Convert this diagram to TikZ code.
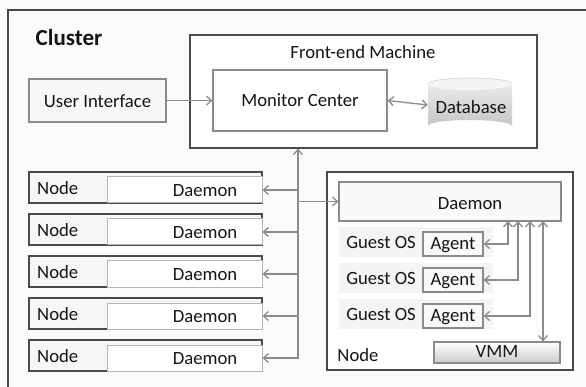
\documentclass[tikz,border=0pt]{standalone}
\usepackage{fontspec}
\setmainfont{Carlito}
\usetikzlibrary{arrows.meta}
\definecolor{ink}{HTML}{151515}
\definecolor{bgc}{HTML}{FBFBFB}
\definecolor{dk}{HTML}{4A4A4A}
\definecolor{md}{HTML}{8A8A8A}
\definecolor{lt}{HTML}{B5B5B5}
\definecolor{arc}{HTML}{8C8C8C}
\begin{document}
\begin{tikzpicture}[x=1pt,y=-1pt,
  txt/.style={inner sep=0pt, text=ink, font=\fontsize{18.7}{20}\selectfont},
  bx/.style={inner sep=0pt, line width=1.2pt},
  arr/.style={draw=arc, line width=1.3pt, -{Straight Barb[length=5pt,width=9pt]}},
  darr/.style={draw=arc, line width=1.3pt, {Straight Barb[length=5pt,width=9pt]}-{Straight Barb[length=5pt,width=9pt]}},
  lnk/.style={draw=arc, line width=1.3pt}]
\useasboundingbox (0,0) rectangle (586,387);
\fill[bgc] (0,0) rectangle (586,387);
% cluster frame (cropped at right and bottom)
\draw[dk, line width=1.6pt] (586,10) -- (8,10) -- (8,387);
\node[txt, font=\fontsize{23}{25}\selectfont\bfseries] (cl) at (69,38) {Cluster};

% front-end machine
\node[bx, draw=dk, fill=white, minimum width=347pt, minimum height=113pt] (fe) at (363.5,91.5) {};
\node[txt] (fet) at (363,52) {Front-end Machine};
\node[bx, draw=md, fill=white, minimum width=174pt, minimum height=61pt] (mc) at (300,100.5) {};
\node[txt] (mct) at (300,100) {Monitor Center};
% database cylinder
\node[inner sep=0pt, minimum width=84pt, minimum height=54pt] (db) at (470,105) {};
\shade[top color=gray!12, bottom color=gray!45]
  (428,84) -- (428,126) arc[start angle=180, end angle=360, x radius=42pt, y radius=-6pt]
  -- (512,84) arc[start angle=0, end angle=180, x radius=42pt, y radius=6pt] -- cycle;
\fill[gray!8] (470,84) ellipse[x radius=42pt, y radius=6pt];
\draw[gray!35, line width=0.6pt] (428,84) arc[start angle=180, end angle=360, x radius=42pt, y radius=-6pt];
\node[txt] (dbt) at (471,107) {Database};
\draw[darr] (mc.east) -- (db.west);

% user interface
\node[bx, draw=md, fill=gray!6, minimum width=137pt, minimum height=43pt] (ui) at (97.5,100.5) {};
\node[txt] (uit) at (97.5,101) {User Interface};
\draw[arr] (ui.east) -- (mc.west);

% node rows
\foreach \i/\t in {1/172,2/214,3/256,4/298,5/340}{
  \node[bx, draw=dk, fill=gray!7, minimum width=233pt, minimum height=31pt] (nr\i) at (145.5,\t+15.5) {};
  \node[bx, draw=lt, line width=1pt, fill=white, minimum width=155pt, minimum height=26pt] (dm\i) at (184.5,\t+18) {};
  \node[txt, anchor=west] (nl\i) at (37,\t+16) {Node};
  \node[txt] (dt\i) at (205,\t+19) {Daemon};
}
% bus
\coordinate (bb) at (298,359);
\draw[arr] (bb) -- (bb |- fe.south);
\foreach \i in {1,...,5}{ \draw[arr] (bb |- dm\i.east) -- (dm\i.east); }

% right node
\node[bx, draw=dk, fill=white, minimum width=246pt, minimum height=198pt] (rn) at (450,271) {};
\node[txt] (rnl) at (358,355) {Node};
\node[bx, draw=md, fill=gray!4, minimum width=222pt, minimum height=39pt] (rd) at (450,201.5) {};
\node[txt] (rdt) at (470,204) {Daemon};
\draw[arr] (bb |- rd.west) -- (rd.west);

\foreach \i/\gy/\ay/\cx in {1/242/244/508,2/278/280/518,3/314/316/530}{
  \node[bx, draw=none, fill=gray!9, minimum width=154pt, minimum height=30pt] (go\i) at (416,\gy) {};
  \node[txt] (got\i) at (381,\gy+1) {Guest OS};
  \node[bx, draw=md, fill=gray!5, minimum width=60pt, minimum height=24pt] (ag\i) at (453,\ay) {};
  \node[txt] (agt\i) at (453,\ay+1) {Agent};
  \coordinate (c\i) at (\cx,221);
  \draw[darr] (ag\i.east) -| (c\i);
}
% VMM
\node[bx, draw=md, top color=white, bottom color=gray!40, minimum width=126pt, minimum height=21pt] (vmm) at (497,352.5) {};
\node[txt] (vmt) at (497,351) {VMM};
\coordinate (c4) at (543,221);
\draw[darr] (c4) -- (c4 |- vmm.north);
\end{tikzpicture}
\end{document}
